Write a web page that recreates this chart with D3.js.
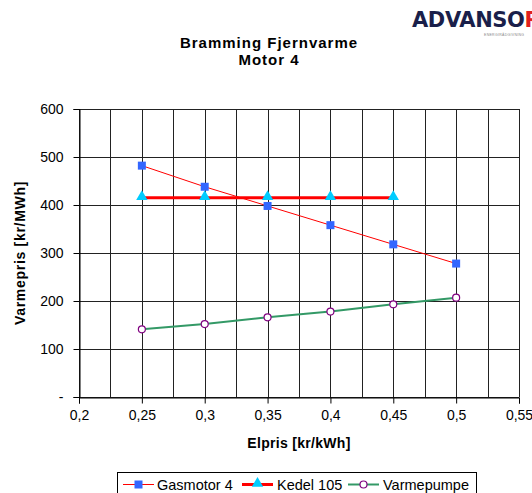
<!DOCTYPE html>
<html>
<head>
<meta charset="utf-8">
<script src="https://cdn.jsdelivr.net/npm/d3@7"></script>
<style>
  html, body { margin: 0; padding: 0; background: #fff; overflow: hidden; }
  svg { display: block; font-family: "Liberation Sans", Arial, sans-serif; }
</style>
</head>
<body>
<svg id="chart" width="532" height="493"></svg>
<script>
// Heat price vs. electricity price, Bramming district heating, engine 4
const elpris = [0.25, 0.30, 0.35, 0.40, 0.45, 0.50];
const gasmotor = [482, 438, 398, 358, 318, 278];
const kedelX = [0.25, 0.30, 0.35, 0.40, 0.45];
const kedel = [415, 415, 415, 415, 415];
const varmepumpe = [141, 152, 166, 178, 193, 207];
const xTicks = [0.2, 0.25, 0.3, 0.35, 0.4, 0.45, 0.5, 0.55];
const yTicks = [0, 100, 200, 300, 400, 500, 600];

const svg = d3.select("#chart");
const plotL = 79, plotR = 519, plotT = 109, plotB = 397;

const x = d3.scaleLinear().domain([0.2, 0.55]).range([plotL, plotR]);
const y = d3.scaleLinear().domain([0, 600]).range([plotB, plotT]);

const fmtX = v => d3.format(".2~f")(v).replace(".", ",");
const fmtY = v => v === 0 ? "-" : String(v);

// Grid: vertical lines every 0.025, horizontal at each 100
const g = svg.append("g");
const vLines = d3.range(0, 15).map(i => 0.2 + i * 0.025);
g.selectAll("line.v").data(vLines).join("line")
  .attr("x1", d => Math.round(x(d)) + 0.5).attr("x2", d => Math.round(x(d)) + 0.5)
  .attr("y1", plotT).attr("y2", plotB)
  .attr("stroke", "#222").attr("stroke-width", 1);
g.selectAll("line.h").data(yTicks).join("line")
  .attr("x1", plotL).attr("x2", plotR)
  .attr("y1", d => Math.round(y(d)) + 0.5).attr("y2", d => Math.round(y(d)) + 0.5)
  .attr("stroke", "#222").attr("stroke-width", 1);

// Axes
const yAxis = d3.axisLeft(y).tickValues(yTicks).tickFormat(fmtY).tickSize(6).tickPadding(10);
const xAxis = d3.axisBottom(x).tickValues(xTicks).tickFormat(fmtX).tickSize(6).tickPadding(7);

const ya = svg.append("g").attr("transform", `translate(${plotL + 0.5},0)`).call(yAxis);
const xa = svg.append("g").attr("transform", `translate(0,${plotB + 0.5})`).call(xAxis);
[ya, xa].forEach(a => {
  a.select(".domain").attr("stroke", "#000");
  a.selectAll(".tick line").attr("stroke", "#000");
  a.selectAll("text").attr("font-size", 14).attr("fill", "#000")
    .attr("font-family", "'Liberation Sans', Arial, sans-serif");
});

// Series
const line = d3.line().x(d => x(d[0])).y(d => y(d[1]));
const gasData = elpris.map((e, i) => [e, gasmotor[i]]);
const kedData = kedelX.map((e, i) => [e, kedel[i]]);
const vpData = elpris.map((e, i) => [e, varmepumpe[i]]);

svg.append("path").datum(gasData).attr("d", line)
  .attr("fill", "none").attr("stroke", "#ff0000").attr("stroke-width", 1);
svg.append("path").datum(kedData).attr("d", line)
  .attr("fill", "none").attr("stroke", "#ff0000").attr("stroke-width", 3);
svg.append("path").datum(vpData).attr("d", line)
  .attr("fill", "none").attr("stroke", "#339966").attr("stroke-width", 2);

const sq = d3.symbol().type(d3.symbolSquare).size(64);
const tri = d3.symbol().type(d3.symbolTriangle).size(56);

svg.selectAll("path.gas").data(gasData).join("path")
  .attr("d", sq).attr("transform", d => `translate(${x(d[0])},${y(d[1])})`)
  .attr("fill", "#3366ff");
svg.selectAll("path.ked").data(kedData).join("path")
  .attr("d", tri).attr("transform", d => `translate(${x(d[0])},${y(d[1]) - 1})`)
  .attr("fill", "#00ccff");
svg.selectAll("circle.vp").data(vpData).join("circle")
  .attr("cx", d => x(d[0])).attr("cy", d => y(d[1])).attr("r", 3.5)
  .attr("fill", "#fff").attr("stroke", "#800080").attr("stroke-width", 1.2);

// Titles
svg.append("text").attr("x", 269).attr("y", 48).attr("text-anchor", "middle")
  .attr("font-size", 15).attr("font-weight", "bold").attr("letter-spacing", 1)
  .text("Bramming Fjernvarme");
svg.append("text").attr("x", 269).attr("y", 65).attr("text-anchor", "middle")
  .attr("font-size", 15).attr("font-weight", "bold").attr("letter-spacing", 1)
  .text("Motor 4");

svg.append("text").attr("x", (plotL + plotR) / 2).attr("y", 448).attr("text-anchor", "middle")
  .attr("font-size", 14).attr("font-weight", "bold").attr("letter-spacing", 0.3)
  .text("Elpris [kr/kWh]");
svg.append("text").attr("transform", `translate(25,${(plotT + plotB) / 2}) rotate(-90)`)
  .attr("text-anchor", "middle").attr("font-size", 14).attr("font-weight", "bold")
  .attr("letter-spacing", 0.7)
  .text("Varmepris [kr/MWh]");

// Company logo, top right (runs off the page edge)
const logo = svg.append("text").attr("x", 412).attr("y", 27)
  .attr("font-size", 21).attr("font-weight", "bold")
  .attr("font-family", "'DejaVu Sans', sans-serif").attr("letter-spacing", -0.4);
logo.append("tspan").attr("fill", "#1a1f4a").text("ADVANSO");
logo.append("tspan").attr("fill", "#e02020").text("R");
svg.append("text").attr("x", 484).attr("y", 36).attr("font-size", 3.5)
  .attr("fill", "#888").attr("letter-spacing", 0.3).text("ENERGIRÅDGIVNING");

// Legend
const lg = svg.append("g");
lg.append("rect").attr("x", 117.5).attr("y", 472.5).attr("width", 359).attr("height", 30)
  .attr("fill", "#fff").attr("stroke", "#000").attr("stroke-width", 1);
const items = [
  { name: "Gasmotor 4", x0: 123, tx: 157, stroke: "#ff0000", sw: 1, mark: "sq" },
  { name: "Kedel 105", x0: 242, tx: 277, stroke: "#ff0000", sw: 3, mark: "tri" },
  { name: "Varmepumpe", x0: 348, tx: 383, stroke: "#339966", sw: 2, mark: "circ" }
];
const ly = 484.5;
items.forEach(it => {
  lg.append("line").attr("x1", it.x0).attr("x2", it.x0 + 31).attr("y1", ly).attr("y2", ly)
    .attr("stroke", it.stroke).attr("stroke-width", it.sw);
  const cx = it.x0 + 15.5;
  if (it.mark === "sq") lg.append("path").attr("d", sq).attr("transform", `translate(${cx},${ly})`).attr("fill", "#3366ff");
  if (it.mark === "tri") lg.append("path").attr("d", tri).attr("transform", `translate(${cx},${ly - 1})`).attr("fill", "#00ccff");
  if (it.mark === "circ") lg.append("circle").attr("cx", cx).attr("cy", ly).attr("r", 3.5)
    .attr("fill", "#fff").attr("stroke", "#800080").attr("stroke-width", 1.2);
  lg.append("text").attr("x", it.tx).attr("y", 489.5).attr("font-size", 14.5).text(it.name);
});
</script>
</body>
</html>
